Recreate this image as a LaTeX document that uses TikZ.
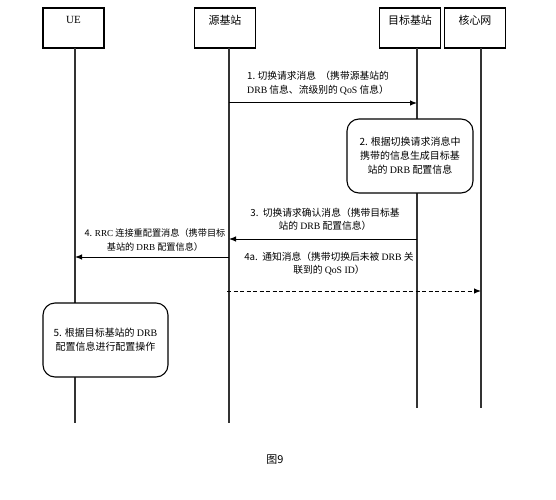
\documentclass[tikz,border=0pt]{standalone}
\usepackage{fontspec}
\setmainfont{Noto Sans CJK SC}
\newfontfamily\en{Liberation Serif}
\usetikzlibrary{arrows.meta}
\begin{document}
\begin{tikzpicture}[x=1bp,y=-1bp,
  hdr/.style={draw=black,line width=1.3pt,minimum width=61bp,minimum height=40bp,inner sep=0pt},
  hdrlab/.style={font=\fontsize{11}{13}\selectfont,anchor=center},
  life/.style={draw=black!80,line width=1.1pt},
  note/.style={draw=black,line width=1.1pt,rounded corners=12bp,inner sep=0pt,align=center,font=\fontsize{10}{14}\selectfont},
  msg/.style={font=\fontsize{9.8}{13.5}\selectfont,inner sep=0pt},
  arr/.style={draw=black,line width=1pt,-{Latex[length=7bp,width=5.5bp]}},
  darr/.style={draw=black,line width=1pt,dash pattern=on 4bp off 2.5bp,-{Latex[length=7bp,width=5.5bp]}}]
\useasboundingbox (0,0) rectangle (556,500);
\fill[white] (0,0) rectangle (556,500);
% header boxes
\node[hdr] (ue) at (73.5,28) {};
\node[hdr] (src) at (225,28) {};
\node[hdr] (tgt) at (410,28) {};
\node[hdr] (core) at (475,28) {};
\node[hdrlab] (uel) at (73.5,20) {\en UE};
\node[hdrlab] (srcl) at (225,20) {源基站};
\node[hdrlab] (tgtl) at (410,20) {目标基站};
\node[hdrlab] (corel) at (475,20) {核心网};
% lifelines
\coordinate (ueT) at (75,48);   \coordinate (ueB) at (75,423);
\coordinate (srcT) at (229,48); \coordinate (srcB) at (229,423);
\coordinate (tgtT) at (417,48); \coordinate (tgtB) at (417,408);
\coordinate (coreT) at (481,48);\coordinate (coreB) at (481,408);
\draw[life] (ueT) -- (ueB);
\draw[life] (srcT) -- (srcB);
\draw[life] (tgtT) -- (tgtB);
\draw[life] (coreT) -- (coreB);
% notes
\node[note,fill=white,minimum width=126bp,minimum height=74bp] (n2) at (410,156)
  {2. 根据切换请求消息中\\携带的信息生成目标基\\站的 {\en DRB} 配置信息};
\node[note,fill=white,minimum width=125bp,minimum height=74bp] (n5) at (105.5,340)
  {5. 根据目标基站的 {\en DRB}\\配置信息进行配置操作};
% message 1
\coordinate (m1s) at (229,103); \coordinate (m1e) at (417,103);
\draw[arr] (m1s) -- (m1e);
\node[msg,align=left,anchor=west] (t1) at (247,83)
  {1.\ 切换请求消息\ \ （携带源基站的\\{\en DRB} 信息、流级别的 {\en QoS} 信息）};
% message 3
\coordinate (m3s) at (417,239); \coordinate (m3e) at (229,239);
\draw[arr] (m3s) -- (m3e);
\node[msg,align=center] (t3) at (325,219.5)
  {3.\ \ 切换请求确认消息（携带目标基\\站的 {\en DRB} 配置信息）};
% message 4
\coordinate (m4s) at (229,257); \coordinate (m4e) at (75,257);
\draw[arr] (m4s) -- (m4e);
\node[msg,font=\fontsize{9.2}{13.5}\selectfont,align=center] (t4) at (155,240)
  {4. {\en RRC} 连接重配置消息（携带目标\\基站的 {\en DRB} 配置信息）};
% message 4a
\coordinate (m4as) at (227,291); \coordinate (m4ae) at (481,291);
\draw[darr] (m4as) -- (m4ae);
\node[msg,align=center] (t4a) at (329,263.5)
  {4a.\ \ 通知消息（携带切换后未被 {\en DRB} 关\\联到的 {\en QoS ID}）};
% caption
\node[font=\fontsize{11}{13}\selectfont] (cap) at (275,460) {图9};
\end{tikzpicture}
\end{document}
